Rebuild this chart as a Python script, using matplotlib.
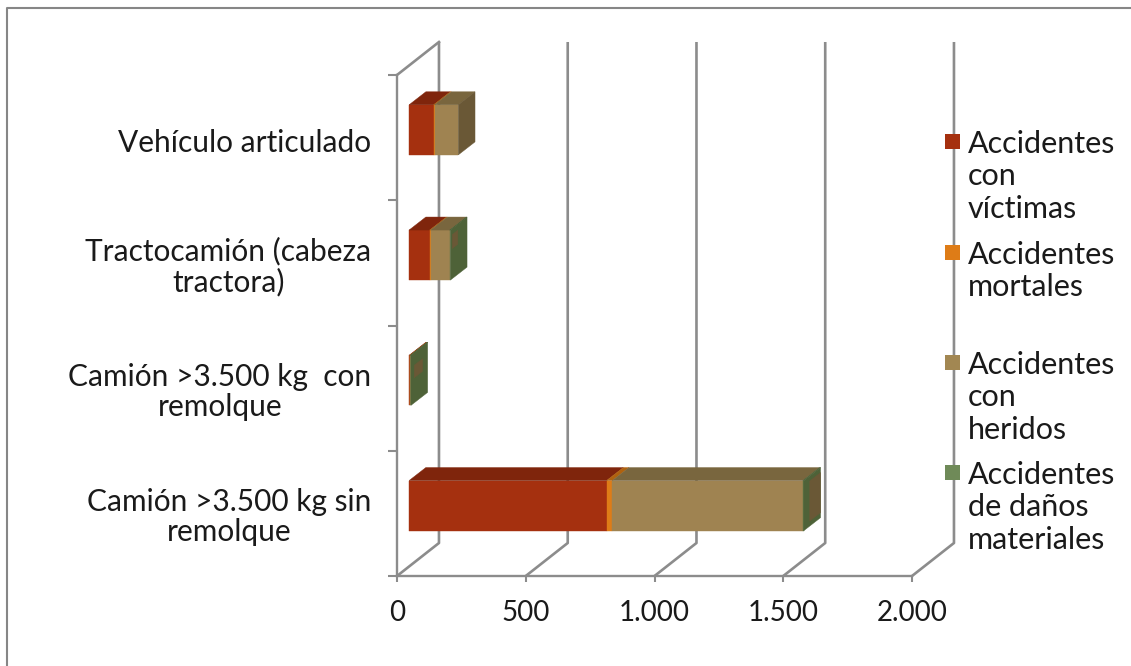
import matplotlib
matplotlib.use('Agg')
from matplotlib import pyplot as plt
from matplotlib.lines import Line2D
from matplotlib.patches import Polygon, Rectangle
from matplotlib.transforms import ScaledTranslation

categorias = ['Camión >3.500 kg sin\nremolque', 'Camión >3.500 kg  con\nremolque',
              'Tractocamión (cabeza\ntractora)', 'Vehículo articulado']
con_victimas = [767, 3, 80, 95]
mortales = [22, 1, 4, 4]
con_heridos = [740, 2, 74, 92]
danos_materiales = [4, 1, 2, 0]
ticks_x = [0, 500, 1000, 1500, 2000]
etiquetas_x = ['0', '500', '1.000', '1.500', '2.000']
leyenda = ['Accidentes\ncon\nvíctimas', 'Accidentes\nmortales',
           'Accidentes\ncon\nheridos', 'Accidentes\nde daños\nmateriales']

# colores: cara frontal, cara superior, cara lateral
colores = [('#A5300F', '#7F250C', '#6E200A'),
           ('#DE7C17', '#B0620F', '#96540D'),
           ('#9F8351', '#79663E', '#6A5836'),
           ('#5E7545', '#4E6238', '#4E6238')]
color_leyenda = ['#A5300F', '#DE7C17', '#A28752', '#6F8A58']
# mancha marrón sobre la cara lateral: x0, x1, y0, y1 como fracción de la cara
manchas = [(0.35, 1.0, 0.1, 0.9), (0.2, 0.7, 0.5, 0.75), (0.12, 0.45, 0.6, 0.88), None]
GRIS = '#8c8c8c'
W, H = 1131, 666

# profundidad de la caja 3d y de las barras, en unidades de los ejes
FONDO_X, FONDO_Y = 163, 0.2635
BARRA_X, BARRA_Y = 65, 0.104
INICIO_X, INICIO_Y = 47, 0.062
ALTO = 0.4

plt.rcParams['font.family'] = ['Lato', 'DejaVu Sans']
fig = plt.figure(figsize=(W / 100, H / 100), dpi=100)
ax = fig.add_axes([397 / W, (H - 576) / H, 515 / W, 501 / H])
ax.set_xlim(0, 2000)
ax.set_ylim(0, 4)
ax.patch.set_visible(False)

for s in ['top', 'right']:
    ax.spines[s].set_visible(False)
for s in ['left', 'bottom']:
    ax.spines[s].set_color(GRIS)
    ax.spines[s].set_linewidth(1.7)

ax.set_xticks(ticks_x)
ax.set_xticklabels(etiquetas_x, fontsize=20, color='#1a1a1a')
ax.tick_params(axis='x', length=4.5, width=1.5, color=GRIS, pad=13)
ax.set_yticks(range(5))
ax.set_yticklabels([])
ax.tick_params(axis='y', which='major', length=6.5, width=1.5, color=GRIS)
ax.set_yticks([0.5, 1.5, 2.5, 3.5], minor=True)
ax.set_yticklabels(categorias, minor=True, fontsize=21.5, color='#1a1a1a',
                   multialignment='center', linespacing=1.1)
ax.tick_params(axis='y', which='minor', length=0, pad=18.5)
# la etiqueta de una sola línea va un poco más baja
for lab in ax.get_yticklabels(minor=True):
    if '\n' not in lab.get_text():
        lab.set_transform(lab.get_transform() + ScaledTranslation(0, -3 / 100, fig.dpi_scale_trans))

# rejilla: paredes del fondo y diagonales del suelo
for t in ticks_x:
    ax.plot([t, t + FONDO_X, t + FONDO_X], [0, FONDO_Y, 4 + FONDO_Y],
            color=GRIS, lw=1.9, clip_on=False, zorder=1, solid_capstyle='butt')
ax.plot([0, FONDO_X], [4, 4 + FONDO_Y], color=GRIS, lw=1.9, clip_on=False, zorder=1)


def cara(puntos, color, z):
    ax.add_patch(Polygon(puntos, closed=True, facecolor=color, edgecolor=color, lw=0.3,
                         clip_on=False, zorder=z))


series = [con_victimas, mortales, con_heridos, danos_materiales]
for i in range(len(categorias)):
    y0 = i + 0.5 - ALTO / 2 + INICIO_Y
    y1 = y0 + ALTO
    x0 = INICIO_X
    lateral = None
    for serie, (frente, arriba, lado) in zip(series, colores):
        v = serie[i]
        if v == 0:
            continue
        x1 = x0 + v
        cara([(x0, y0), (x1, y0), (x1, y1), (x0, y1)], frente, 3)
        cara([(x0, y1), (x1, y1), (x1 + BARRA_X, y1 + BARRA_Y), (x0 + BARRA_X, y1 + BARRA_Y)], arriba, 3)
        lateral = lado
        x0 = x1
    cara([(x0, y0), (x0 + BARRA_X, y0 + BARRA_Y), (x0 + BARRA_X, y1 + BARRA_Y), (x0, y1)], lateral, 4)
    if manchas[i] is not None:
        fa, fb, fc, fd = manchas[i]
        xa, xb = x0 + fa * BARRA_X, x0 + fb * BARRA_X
        ya, yb = y0 + fa * BARRA_Y, y0 + fb * BARRA_Y
        cara([(xa, ya + fc * ALTO), (xb, yb + fc * ALTO), (xb, yb + fd * ALTO), (xa, ya + fd * ALTO)],
             '#6A5836', 5)

# marco exterior, cortado a la derecha y abajo
fig.add_artist(Line2D([7 / W, 7 / W, 1], [0, 1 - 8 / H, 1 - 8 / H], color='#868686', lw=1.5))

# leyenda con un cuadrado y su texto por serie
y_cuadros = [134, 245, 355, 465]
for nombre, color, yc in zip(leyenda, color_leyenda, y_cuadros):
    fig.add_artist(Rectangle((945 / W, 1 - (yc + 15) / H), 15 / W, 15 / H, facecolor=color,
                             edgecolor='none', transform=fig.transFigure, zorder=6))
    fig.text(968 / W, 1 - (yc - 4) / H, nombre, fontsize=22, color='#1a1a1a',
             ha='left', va='top', linespacing=1.19)

plt.savefig('out.png', dpi=100)
